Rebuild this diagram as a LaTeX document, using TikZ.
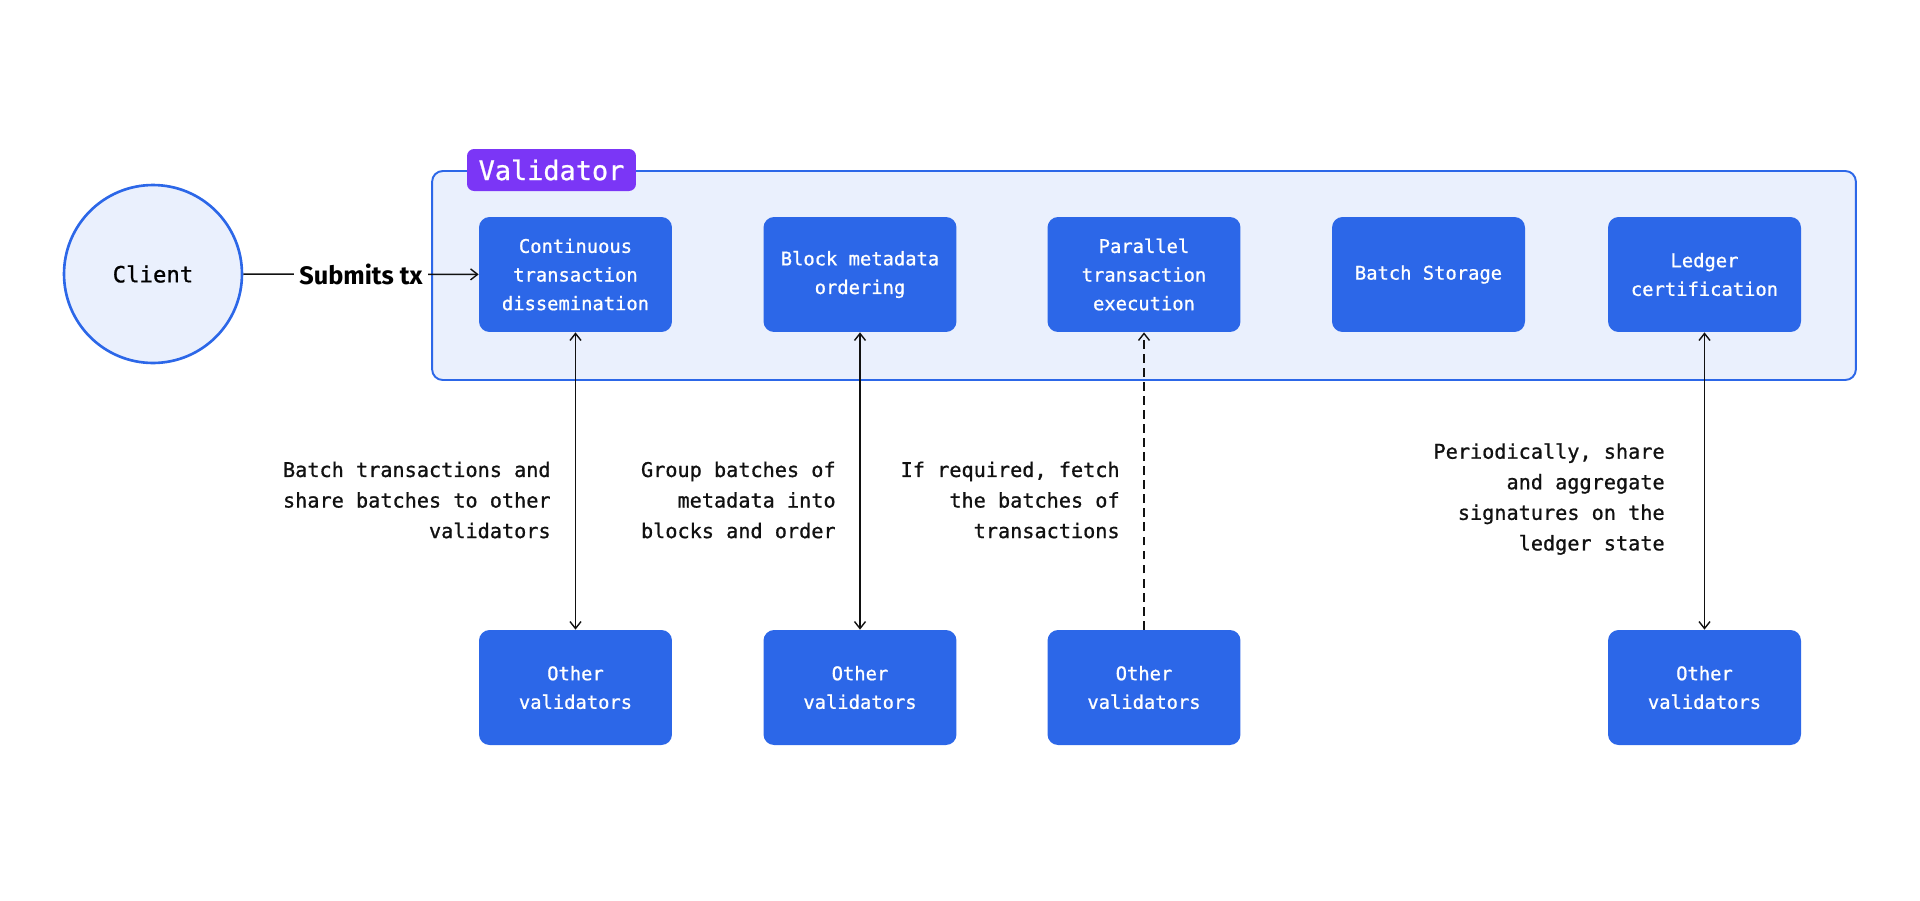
\documentclass[tikz,border=0pt]{standalone}
\usepackage{fontspec}
\newfontfamily\vmono{DejaVu Sans Mono}[FakeBold=0.9]
\setsansfont{Fira Sans}
\usetikzlibrary{arrows.meta,positioning}
\definecolor{vblue}{HTML}{2C67E8}
\definecolor{vpale}{HTML}{EAF0FD}
\definecolor{vpurple}{HTML}{7B36F6}
\definecolor{vink}{HTML}{111111}
\tikzset{
  stage/.style={fill=vblue,rounded corners=6pt,minimum width=3.86cm,minimum height=2.3cm,text=white,align=center,font=\vmono\fontsize{10.7}{16.3}\selectfont},
  note/.style={anchor=east,align=right,text=vink,inner sep=0pt,font=\vmono\fontsize{11.5}{17.4}\selectfont},
  link/.style={line width=0.8pt,vink},
  both/.style={link,{Straight Barb[length=1.4mm,width=2.2mm]}-{Straight Barb[length=1.4mm,width=2.2mm]}},
  fetch/.style={link,dashed,dash pattern=on 5pt off 3pt,-{Straight Barb[length=1.4mm,width=2.2mm]}}
}

\begin{document}
\begin{tikzpicture}[x=0.02cm,y=-0.02cm]
\useasboundingbox (0,0) rectangle (1920,900);
% validator frame
\node[draw=vblue,line width=1.1pt,fill=vpale,rounded corners=6pt,minimum width=28.48cm,minimum height=4.18cm] (frame) at (1144,275.5) {};
\node[fill=vpurple,rounded corners=4pt,minimum width=3.38cm,minimum height=0.84cm,text=white,font=\vmono\fontsize{15.3}{18}\selectfont] (tag) at (551.5,170) {Validator};
% client
\node[circle,draw=vblue,line width=1.5pt,fill=vpale,minimum size=3.56cm,font=\vmono\fontsize{12.7}{15}\selectfont] (client) at (153,274) {Client};
% stages inside the validator
\node[stage] (dissem) at (575.5,274.5) {Continuous\\transaction\\dissemination};
\node[stage] (order) at (860,274.5) {Block metadata\\ordering};
\node[stage] (exec) at (1144,274.5) {Parallel\\transaction\\execution};
\node[stage] (store) at (1428.5,274.5) {Batch Storage};
\node[stage] (cert) at (1704.5,274.5) {Ledger\\certification};
% other validators
\node[stage] (peerA) at (575.5,687.5) {Other\\validators};
\node[stage] (peerB) at (860,687.5) {Other\\validators};
\node[stage] (peerC) at (1144,687.5) {Other\\validators};
\node[stage] (peerD) at (1704.5,687.5) {Other\\validators};
% connectors
\draw[link,-{Straight Barb[length=1.4mm,width=2.2mm]}] (client) -- node[fill=white,inner sep=3pt,text=black,font=\sffamily\bfseries\fontsize{14.4}{16}\selectfont] (subtx) {Submits tx} (dissem);
\draw[both] (dissem) -- (peerA);
\draw[both] (order) -- (peerB);
\draw[fetch] (peerC) -- (exec);
\draw[both] (cert) -- (peerD);
% notes
\node[note] (noteA) at (551,500) {Batch transactions and\\share batches to other\\validators};
\node[note] (noteB) at (836,500) {Group batches of\\metadata into\\blocks and order};
\node[note] (noteC) at (1120,500) {If required, fetch\\the batches of\\transactions};
\node[note] (noteD) at (1665,499) {Periodically, share\\and aggregate\\signatures on the\\ledger state};
\end{tikzpicture}
\end{document}
